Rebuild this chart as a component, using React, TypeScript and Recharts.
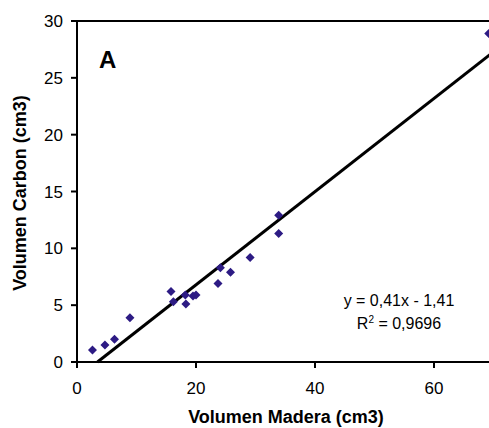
import React from "react";
import {
  ScatterChart,
  Scatter,
  XAxis,
  YAxis,
  ReferenceLine,
} from "recharts";

// volumen madera (x) vs volumen carbon (y)
const maderaVals = [2.6, 4.7, 6.3, 8.9, 15.8, 16.2, 18.2, 18.3, 19.5, 20.0, 23.7, 24.1, 25.8, 29.1, 33.9, 33.9, 69.2];
const carbonVals = [1.05, 1.5, 2.0, 3.9, 6.2, 5.3, 5.9, 5.1, 5.8, 5.9, 6.9, 8.3, 7.9, 9.2, 12.9, 11.3, 28.9];

// trend line end points (y = 0,41x - 1,41)
const trendX = [3.44, 70];
const trendY = [0, 27.29];

const xTicks = [0, 20, 40, 60];
const yTicks = [0, 5, 10, 15, 20, 25, 30];

const points = maderaVals.map((x, i) => ({ x, y: carbonVals[i] }));

const FONT = "'Liberation Sans', Arial, sans-serif";
const POINT_COLOR = "#2D1B84";

const Diamond = (props: any) => {
  const { cx, cy } = props;
  const r = 4.5;
  return (
    <polygon
      points={`${cx},${cy - r} ${cx + r},${cy} ${cx},${cy + r} ${cx - r},${cy}`}
      fill={POINT_COLOR}
    />
  );
};

const App = () => {
  return (
    <div
      style={{
        position: "absolute",
        left: 0,
        top: 0,
        width: 489,
        height: 428,
        overflow: "hidden",
        background: "#fff",
        fontFamily: FONT,
      }}
    >
      <ScatterChart
        width={500}
        height={428}
        margin={{ top: 21, right: 6.5, bottom: 0, left: 0 }}
      >
        <XAxis
          type="number"
          dataKey="x"
          domain={[0, 70]}
          ticks={xTicks}
          allowDataOverflow
          height={66}
          stroke="#000"
          strokeWidth={2}
          tickSize={6}
          tickMargin={14}
          tick={{ fill: "#000", fontSize: 17, fontFamily: FONT }}
          label={{
            content: () => (
              <text
                x={286}
                y={423}
                textAnchor="middle"
                fontSize={18}
                fontWeight="bold"
                fontFamily={FONT}
                fill="#000"
              >
                Volumen Madera (cm3)
              </text>
            ),
          }}
        />
        <YAxis
          type="number"
          dataKey="y"
          domain={[0, 30]}
          ticks={yTicks}
          allowDataOverflow
          width={77}
          stroke="#000"
          strokeWidth={2}
          tickSize={6}
          tickMargin={8}
          tick={{ fill: "#000", fontSize: 17, fontFamily: FONT }}
          label={{
            content: () => (
              <text
                x={26}
                y={193}
                transform="rotate(-90 26 193)"
                textAnchor="middle"
                fontSize={18}
                fontWeight="bold"
                fontFamily={FONT}
                fill="#000"
              >
                Volumen Carbon (cm3)
              </text>
            ),
          }}
        />
        <ReferenceLine y={30} stroke="#000" strokeWidth={2} />
        <ReferenceLine
          segment={[
            { x: trendX[0], y: trendY[0] },
            { x: trendX[1], y: trendY[1] },
          ]}
          stroke="#000"
          strokeWidth={3}
        />
        <Scatter data={points} shape={<Diamond />} isAnimationActive={false} />
      </ScatterChart>

      <div
        style={{
          position: "absolute",
          left: 99,
          top: 46,
          fontSize: 24,
          fontWeight: "bold",
          lineHeight: "28px",
        }}
      >
        A
      </div>
      <div
        style={{
          position: "absolute",
          left: 318,
          top: 289,
          width: 162,
          textAlign: "center",
          fontSize: 16,
          lineHeight: "23px",
        }}
      >
        <div>y = 0,41x - 1,41</div>
        <div>
          R<sup style={{ fontSize: 10, lineHeight: 0 }}>2</sup> = 0,9696
        </div>
      </div>
    </div>
  );
};

export default App;
